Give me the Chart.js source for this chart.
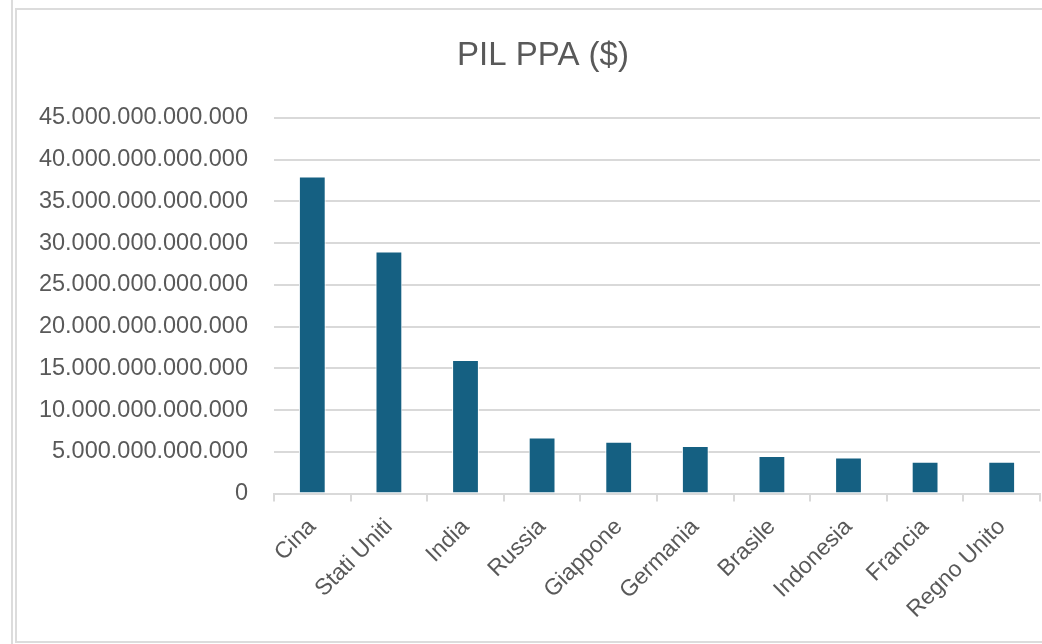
<!DOCTYPE html>
<html>
<head>
<meta charset="utf-8">
<script src="https://cdn.jsdelivr.net/npm/chart.js@4.4.1/dist/chart.umd.min.js"></script>
<style>
    body { margin: 0; background: #ffffff; overflow: hidden; }
    #wrap { position: relative; width: 1042px; height: 644px; }
    .line-outer { position: absolute; left: 11px; top: 0; width: 2px; height: 644px; background: #dcdcdc; }
    .frame { position: absolute; left: 15px; top: 8px; width: 1100px; height: 631px; border: 2px solid #dcdcdc; }
    canvas { position: absolute; left: 0; top: 0; }
</style>
</head>
<body>
<div id="wrap">
    <div class="line-outer"></div>
    <div class="frame"></div>
    <canvas id="barChart" width="1042" height="644"></canvas>
</div>
<script>
var countries = ['Cina', 'Stati Uniti', 'India', 'Russia', 'Giappone', 'Germania', 'Brasile', 'Indonesia', 'Francia', 'Regno Unito'];
var pilPpa = [38.0e12, 29.0e12, 16.0e12, 6.7e12, 6.2e12, 5.7e12, 4.5e12, 4.3e12, 3.8e12, 3.8e12];
var yMax = 45e12;
var yStep = 5e12;
var chartTitle = 'PIL PPA ($)';

// numeri con il punto come separatore delle migliaia
function formatIt(v) {
    return String(Math.round(v)).replace(/\B(?=(\d{3})+(?!\d))/g, '.');
}

// titolo centrato sull'oggetto grafico come in Excel (non sul canvas)
var titlePlugin = {
    id: 'excelTitle',
    afterDraw: function (chart) {
        var c = chart.ctx;
        c.save();
        c.fillStyle = '#595959';
        c.font = '33px "Liberation Sans"';
        c.textAlign = 'center';
        c.textBaseline = 'middle';
        c.fillText(chartTitle, 543, 56);
        c.restore();
    }
};

document.addEventListener("DOMContentLoaded", function () {
    var ctx = document.getElementById('barChart').getContext('2d');
    var barChart = new Chart(ctx, {
        type: 'bar',
        data: {
            labels: countries,
            datasets: [{
                label: chartTitle,
                data: pilPpa,
                backgroundColor: '#156082',
                borderColor: '#ffffff',
                borderWidth: 1,
                barPercentage: 0.35,
                categoryPercentage: 1.0
            }]
        },
        options: {
            responsive: false,
            animation: false,
            layout: {
                padding: { left: 0, right: 2, top: 118, bottom: 0 }
            },
            scales: {
                x: {
                    afterFit: function (scale) { scale.height = 150.5; },
                    grid: {
                        offset: true,
                        drawOnChartArea: false,
                        drawTicks: true,
                        tickLength: 8,
                        color: '#d9d9d9',
                        lineWidth: 2
                    },
                    border: { color: '#d9d9d9', width: 2 },
                    ticks: {
                        autoSkip: false,
                        maxRotation: 45,
                        minRotation: 45,
                        padding: 12,
                        color: '#595959',
                        font: { family: 'Liberation Sans', size: 23 }
                    }
                },
                y: {
                    min: 0,
                    max: yMax,
                    afterFit: function (scale) { scale.width = 274; },
                    grid: {
                        drawTicks: false,
                        color: '#d9d9d9',
                        lineWidth: 2
                    },
                    border: { display: false },
                    ticks: {
                        stepSize: yStep,
                        padding: 26,
                        color: '#595959',
                        font: { family: 'Liberation Sans', size: 23.5 },
                        callback: function (value) { return formatIt(value); }
                    }
                }
            },
            plugins: {
                legend: { display: false },
                tooltip: { enabled: false },
                title: { display: false }
            }
        },
        plugins: [titlePlugin]
    });
});
</script>
</body>
</html>
